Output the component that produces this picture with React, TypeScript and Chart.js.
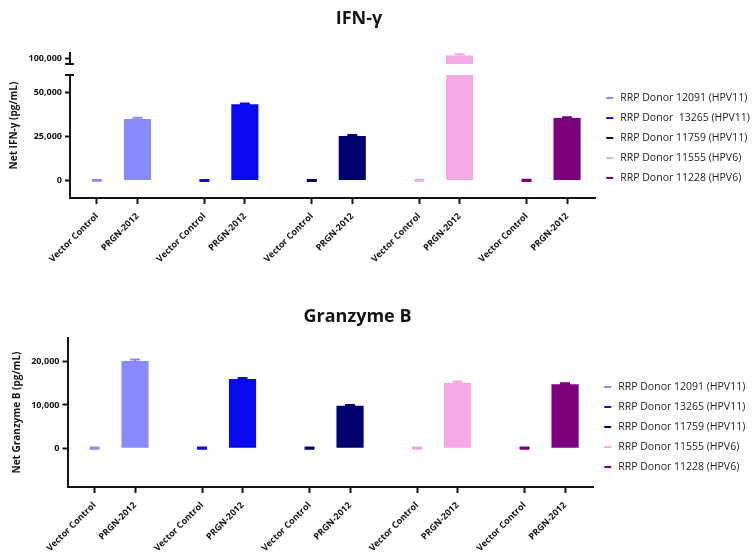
import React, { useEffect, useRef } from "react";
import { Chart, registerables } from "chart.js";

Chart.register(...registerables);

// ---------------- data ----------------
const CONDITIONS = ["Vector Control", "PRGN-2012"];

const DONORS_IFN = [
  "RRP Donor 12091 (HPV11)",
  "RRP Donor  13265 (HPV11)",
  "RRP Donor 11759 (HPV11)",
  "RRP Donor 11555 (HPV6)",
  "RRP Donor 11228 (HPV6)",
];
const DONORS_GZB = [
  "RRP Donor 12091 (HPV11)",
  "RRP Donor 13265 (HPV11)",
  "RRP Donor 11759 (HPV11)",
  "RRP Donor 11555 (HPV6)",
  "RRP Donor 11228 (HPV6)",
];
const DONOR_COLORS = ["#8a8aff", "#0a0af0", "#000070", "#f4a8e4", "#7c007c"];

// IFN-γ (pg/mL)
const IFN_VECTOR = [0, 0, 0, 0, 0];
const IFN_VECTOR_ERR = [250, 300, 300, 250, 350];
const IFN_PRGN = [35000, 43300, 25300, 101400, 35500];
const IFN_PRGN_ERR = [600, 500, 500, 800, 500];
const IFN_LOW_TICKS = [0, 25000, 50000];
const IFN_HIGH_TICKS = [100000];

// Granzyme B (pg/mL)
const GZB_VECTOR = [0, 0, 0, 0, 0];
const GZB_VECTOR_ERR = [120, 160, 160, 120, 160];
const GZB_PRGN = [20200, 16000, 9800, 15150, 14800];
const GZB_PRGN_ERR = [300, 250, 200, 250, 200];
const GZB_TICKS = [0, 10000, 20000];

// ---------------- layout / style ----------------
const FONT = "'Open Sans', 'DejaVu Sans', sans-serif";
const INK = "#141414";
const GROUP_STEP = 2.654; // distance between donor groups (in bar-slot units)
const X_MIN = -0.667;
const X_MAX = 4 * GROUP_STEP + 1 + 0.69;
const CAP_HALF = 5;

const xPos = (group: number, cond: number) => group * GROUP_STEP + cond;
const X_TICKS: number[] = [];
for (let g = 0; g < 5; g++) for (let c = 0; c < 2; c++) X_TICKS.push(xPos(g, c));

type Segment = { id: string; gap?: boolean; min?: number; max?: number; ticks?: number[]; weight: number };
type PanelCfg = {
  top: number; height: number; padTop: number; legendMax: number;
  xAxisHeight: number; yTitleWidth: number; yTitlePad: number; axisWidth: number;
  title: string; titleCX: number; titleCY: number; yTitle: string; legendSpacer: number;
  donors: string[]; vector: number[]; vectorErr: number[]; prgn: number[]; prgnErr: number[];
  segments: Segment[];
};

const IFN_PANEL: PanelCfg = {
  top: 0, height: 268, padTop: 53, legendMax: 160,
  xAxisHeight: 70, yTitleWidth: 22, yTitlePad: 8.5, axisWidth: 48,
  title: "IFN-γ", titleCX: 359, titleCY: 17, yTitle: "Net IFN-γ (pg/mL)", legendSpacer: 29.05,
  donors: DONORS_IFN, vector: IFN_VECTOR, vectorErr: IFN_VECTOR_ERR, prgn: IFN_PRGN, prgnErr: IFN_PRGN_ERR,
  segments: [
    { id: "yHigh", min: 96600, max: 102900, ticks: IFN_HIGH_TICKS, weight: 11 },
    { id: "yGap", gap: true, weight: 11 },
    { id: "yLow", min: -10000, max: 60000, ticks: IFN_LOW_TICKS, weight: 123 },
  ],
};

const GZB_PANEL: PanelCfg = {
  top: 268, height: 288, padTop: 70, legendMax: 162,
  xAxisHeight: 69, yTitleWidth: 22, yTitlePad: 11, axisWidth: 45.5,
  title: "Granzyme B", titleCX: 357.5, titleCY: 47, yTitle: "Net Granzyme B (pg/mL)", legendSpacer: 33.05,
  donors: DONORS_GZB, vector: GZB_VECTOR, vectorErr: GZB_VECTOR_ERR, prgn: GZB_PRGN, prgnErr: GZB_PRGN_ERR,
  segments: [{ id: "yLow", min: -9000, max: 25500, ticks: GZB_TICKS, weight: 1 }],
};

// clip each dataset to its own y segment, then draw its error bars
const segmentPlugin = {
  id: "segmentClipErrors",
  beforeDatasetDraw(chart: any, args: any) {
    const ys = args.meta.yScale;
    const a = chart.chartArea;
    const ctx = chart.ctx;
    ctx.save();
    ctx.beginPath();
    ctx.rect(a.left - 20, ys.top, a.right - a.left + 40, ys.bottom - ys.top);
    ctx.clip();
  },
  afterDatasetDraw(chart: any, args: any) {
    const ctx = chart.ctx;
    const ds: any = chart.data.datasets[args.index];
    const meta = args.meta;
    const ys = meta.yScale;
    const errs: number[] = ds.errors || [];
    ctx.strokeStyle = ds.backgroundColor;
    ctx.lineWidth = 2;
    ctx.lineCap = "butt";
    meta.data.forEach((el: any, i: number) => {
      const e = errs[i];
      if (!e) return;
      const v = ds.data[i].y;
      const x = el.x;
      const yt = ys.getPixelForValue(v + e);
      const yb = ys.getPixelForValue(v - e);
      ctx.beginPath();
      ctx.moveTo(x, yb);
      ctx.lineTo(x, yt);
      ctx.moveTo(x - CAP_HALF, yt);
      ctx.lineTo(x + CAP_HALF, yt);
      ctx.moveTo(x - CAP_HALF, yb);
      ctx.lineTo(x + CAP_HALF, yb);
      ctx.stroke();
    });
    ctx.restore();
  },
  afterDraw(chart: any) {
    const segs: Segment[] = chart.options.plugins.segmentClipErrors?.segments || [];
    const ctx = chart.ctx;
    const x = chart.chartArea.left;
    ctx.save();
    ctx.strokeStyle = INK;
    ctx.lineWidth = 2;
    segs.forEach((s, i) => {
      if (!s.gap) return;
      const above = chart.scales[segs[i - 1].id];
      const below = chart.scales[segs[i + 1].id];
      [above.bottom, below.top].forEach((y: number) => {
        ctx.beginPath();
        ctx.moveTo(x - 5, y);
        ctx.lineTo(x + 4, y);
        ctx.stroke();
      });
    });
    ctx.restore();
  },
};

function buildConfig(cfg: PanelCfg): any {
  const tickFont = { family: FONT, size: 9, weight: "bold" as const };
  const scales: any = {
    x: {
      type: "linear",
      position: "bottom",
      offset: false,
      min: X_MIN,
      max: X_MAX,
      afterBuildTicks: (s: any) => {
        s.ticks = X_TICKS.map((v) => ({ value: v }));
      },
      afterFit: (s: any) => {
        s.height = cfg.xAxisHeight;
      },
      ticks: {
        autoSkip: false,
        minRotation: 45,
        maxRotation: 45,
        padding: 7,
        color: INK,
        font: tickFont,
        callback: (_v: any, i: number) => CONDITIONS[i % 2],
      },
      grid: { display: true, offset: false, drawOnChartArea: false, drawTicks: true, tickLength: 6, tickWidth: 2, tickColor: INK },
      border: { display: true, color: INK, width: 2 },
    },
    yTitle: {
      type: "linear",
      position: "left",
      weight: 10,
      display: true,
      ticks: { display: false },
      grid: { display: false },
      border: { display: false },
      title: {
        display: true,
        text: cfg.yTitle,
        color: INK,
        font: { family: FONT, size: 10, weight: "bold" },
        padding: { top: cfg.yTitlePad, bottom: 0 },
      },
      afterFit: (s: any) => {
        s.width = cfg.yTitleWidth;
      },
    },
  };
  cfg.segments.forEach((seg, i) => {
    const w = cfg.segments.length - i;
    if (seg.gap) {
      scales[seg.id] = {
        type: "linear", position: "left", stack: "yseg", stackWeight: seg.weight, weight: w, display: true,
        ticks: { display: false }, grid: { display: false }, border: { display: false },
        afterFit: (s: any) => { s.width = cfg.axisWidth; },
      };
    } else {
      scales[seg.id] = {
        type: "linear", position: "left", stack: "yseg", stackWeight: seg.weight, weight: w,
        min: seg.min, max: seg.max,
        afterBuildTicks: (s: any) => {
          s.ticks = (seg.ticks || []).map((v) => ({ value: v }));
        },
        afterFit: (s: any) => { s.width = cfg.axisWidth; },
        ticks: { color: INK, font: tickFont, padding: 3, callback: (v: any) => Number(v).toLocaleString("en-US") },
        grid: { display: true, drawOnChartArea: false, drawTicks: true, tickLength: 5, tickWidth: 2, tickColor: INK },
        border: { display: true, color: INK, width: 2 },
      };
    }
  });

  const dataSegs = cfg.segments.filter((s) => !s.gap);
  const primaryId = dataSegs[dataSegs.length - 1].id;
  const ordered = [primaryId, ...dataSegs.map((s) => s.id).filter((id) => id !== primaryId)];
  const datasets: any[] = [];
  ordered.forEach((segId) => {
    cfg.donors.forEach((name, d) => {
      datasets.push({
        type: "bar",
        label: name,
        data: [
          { x: xPos(d, 0), y: cfg.vector[d] },
          { x: xPos(d, 1), y: cfg.prgn[d] },
        ],
        errors: [cfg.vectorErr[d], cfg.prgnErr[d]],
        backgroundColor: DONOR_COLORS[d],
        borderWidth: 0,
        xAxisID: "x",
        yAxisID: segId,
        grouped: false,
        categoryPercentage: 1,
        barPercentage: 0.67,
        clip: false,
        primary: segId === primaryId,
      });
    });
  });

  return {
    type: "bar",
    data: { datasets },
    plugins: [segmentPlugin],
    options: {
      responsive: false,
      maintainAspectRatio: false,
      animation: false,
      events: [],
      indexAxis: "x",
      layout: { padding: { top: cfg.padTop, right: 0, bottom: 0, left: 0 } },
      scales,
      plugins: {
        segmentClipErrors: { segments: cfg.segments },
        tooltip: { enabled: false },
        title: { display: false },
        legend: {
          display: true,
          position: "right",
          align: "start",
          fullSize: true,
          maxWidth: cfg.legendMax,
          title: { display: true, text: "", font: { size: 1 }, padding: { top: cfg.legendSpacer, bottom: 0 } },
          labels: {
            usePointStyle: true,
            pointStyle: "line",
            boxWidth: 10.5,
            boxHeight: 4.95,
            padding: 9.5,
            color: "#222",
            font: { family: FONT, size: 10.5 },
            filter: (item: any, data: any) => !!data.datasets[item.datasetIndex].primary,
            generateLabels: (chart: any) =>
              (Chart.defaults.plugins.legend.labels.generateLabels as any)(chart).map((it: any) => ({
                ...it,
                strokeStyle: it.fillStyle,
                lineWidth: 2,
                pointStyle: "line",
              })),
          },
        },
      },
    },
  };
}

function Panel({ cfg }: { cfg: PanelCfg }) {
  const ref = useRef<HTMLCanvasElement>(null);
  useEffect(() => {
    const chart = new Chart(ref.current as HTMLCanvasElement, buildConfig(cfg));
    return () => chart.destroy();
  }, [cfg]);
  return (
    <div style={{ position: "absolute", left: 0, top: cfg.top, width: 755, height: cfg.height }}>
      <canvas ref={ref} width={755} height={cfg.height} style={{ display: "block", width: 755, height: cfg.height }} />
      <div
        style={{
          position: "absolute",
          left: 0,
          top: cfg.titleCY - 12,
          width: cfg.titleCX * 2,
          height: 24,
          lineHeight: "24px",
          textAlign: "center",
          fontFamily: FONT,
          fontWeight: 700,
          fontSize: 18,
          color: INK,
          pointerEvents: "none",
        }}
      >
        {cfg.title}
      </div>
    </div>
  );
}

export default function App() {
  return (
    <div style={{ position: "absolute", left: 0, top: 0, width: 755, height: 556, background: "#fff", overflow: "hidden" }}>
      <Panel cfg={IFN_PANEL} />
      <Panel cfg={GZB_PANEL} />
    </div>
  );
}
